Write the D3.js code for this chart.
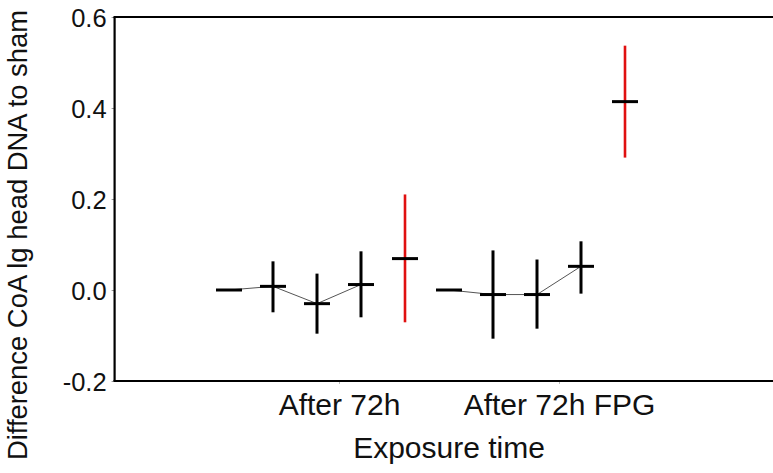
<!DOCTYPE html>
<html>
<head>
<meta charset="utf-8">
<script src="https://cdn.jsdelivr.net/npm/d3@7"></script>
<style>
  html, body { margin: 0; padding: 0; background: #fff; overflow: hidden; }
  svg { display: block; }
  text { font-family: "Liberation Sans", Arial, sans-serif; fill: #111; }
</style>
</head>
<body>
<svg id="chart" width="773" height="473"></svg>
<script>
// Exposure groups on the x axis
const categories = ["After 72h", "After 72h FPG"];
// Dodge offset of each series inside a group (in category units)
const slotOffsets = [-0.5, -0.3, -0.1, 0.1, 0.3];
// Series colour: first four black, last one red (interval shown in red)
const seriesHighlight = [false, false, false, false, true];

// Mean difference to sham per group, one entry per series
const meanAfter72h    = [0.000,  0.008, -0.030, 0.012, 0.069];
const lowerAfter72h   = [0.000, -0.049, -0.096, -0.060, -0.071];
const upperAfter72h   = [0.000,  0.063,  0.036, 0.085, 0.210];

const meanAfter72hFPG  = [0.000, -0.010, -0.010, 0.052, 0.414];
const lowerAfter72hFPG = [0.000, -0.107, -0.085, -0.008, 0.291];
const upperAfter72hFPG = [0.000,  0.087,  0.067, 0.107, 0.537];

const yTicks = [-0.2, 0.0, 0.2, 0.4, 0.6];
const yDomain = [-0.2, 0.6];
const xDomain = [-1.02, 1.975];

const FONT = "'Liberation Sans', Arial, sans-serif";

const groups = [
  { mean: meanAfter72h, lower: lowerAfter72h, upper: upperAfter72h },
  { mean: meanAfter72hFPG, lower: lowerAfter72hFPG, upper: upperAfter72hFPG }
];

const svg = d3.select("#chart");

const x = d3.scaleLinear().domain([0, 1]).range([339, 559]);
const left = x(xDomain[0]);
const right = x(xDomain[1]);
const y = d3.scaleLinear().domain(yDomain).range([381, 17]);

// Build the point records
const points = [];
groups.forEach((g, gi) => {
  g.mean.forEach((m, si) => {
    points.push({
      group: gi, series: si,
      xv: gi + slotOffsets[si],
      mean: m, lower: g.lower[si], upper: g.upper[si],
      red: seriesHighlight[si]
    });
  });
});

// Y axis with small ticks (plain hyphen for negatives)
const fmt = d3.format(".1f");
const yAxis = d3.axisLeft(y).tickValues(yTicks)
  .tickFormat(d => fmt(d).replace("\u2212", "-"))
  .tickSize(3).tickPadding(5);
const gy = svg.append("g").attr("transform", `translate(${left},0)`).call(yAxis);
gy.attr("font-family", null);
gy.select(".domain").remove();
gy.selectAll(".tick line").attr("stroke", "#999");
gy.selectAll(".tick text").attr("font-size", 25.5).attr("fill", "#111")
  .style("font-family", FONT).attr("dy", "0.36em");

// X axis with category labels
const xAxis = d3.axisBottom(x).tickValues(categories.map((c, i) => i))
  .tickFormat(i => categories[i]).tickSize(3).tickPadding(10);
const gx = svg.append("g").attr("transform", `translate(0,${y(yDomain[0])})`).call(xAxis);
gx.attr("font-family", null);
gx.select(".domain").remove();
gx.selectAll(".tick line").attr("stroke", "#bbb");
gx.selectAll(".tick text").attr("font-size", 30).attr("fill", "#111")
  .style("font-family", FONT).attr("dy", "0.71em");

// Plot frame: top, left and bottom edges (open on the right)
const frame = svg.append("g").attr("stroke", "#000").attr("stroke-width", 2.2);
frame.append("line").attr("x1", left - 1.1).attr("x2", right)
  .attr("y1", y(yDomain[1])).attr("y2", y(yDomain[1]));
frame.append("line").attr("x1", left).attr("x2", left)
  .attr("y1", y(yDomain[1])).attr("y2", y(yDomain[0]));
frame.append("line").attr("x1", left - 1.1).attr("x2", right)
  .attr("y1", y(yDomain[0])).attr("y2", y(yDomain[0]));

// Thin connecting line through the black series in each group
const line = d3.line().x(d => x(d.xv)).y(d => y(d.mean));
[0, 1].forEach(gi => {
  svg.append("path")
    .datum(points.filter(p => p.group === gi && !p.red))
    .attr("d", line)
    .attr("fill", "none").attr("stroke", "#555").attr("stroke-width", 1);
});

// Interval bars
const capHalf = 13;
svg.append("g").selectAll("line.ci")
  .data(points.filter(p => p.upper !== p.lower))
  .join("line").attr("class", "ci")
  .attr("x1", d => x(d.xv)).attr("x2", d => x(d.xv))
  .attr("y1", d => y(d.lower)).attr("y2", d => y(d.upper))
  .attr("stroke", d => d.red ? "#e01010" : "#000")
  .attr("stroke-width", d => d.red ? 2.6 : 3);

// Mean markers
svg.append("g").selectAll("line.mean")
  .data(points)
  .join("line").attr("class", "mean")
  .attr("x1", d => x(d.xv) - capHalf).attr("x2", d => x(d.xv) + capHalf)
  .attr("y1", d => y(d.mean)).attr("y2", d => y(d.mean))
  .attr("stroke", "#000").attr("stroke-width", 3);

// Axis titles
svg.append("text")
  .attr("x", 449).attr("y", 458)
  .attr("text-anchor", "middle").attr("font-size", 30)
  .style("font-family", FONT)
  .text("Exposure time");

svg.append("text")
  .attr("transform", `translate(27,${235}) rotate(-90)`)
  .attr("text-anchor", "middle").attr("font-size", 27.4)
  .style("font-family", FONT)
  .text("Difference CoA lg head DNA to sham");
</script>
</body>
</html>
